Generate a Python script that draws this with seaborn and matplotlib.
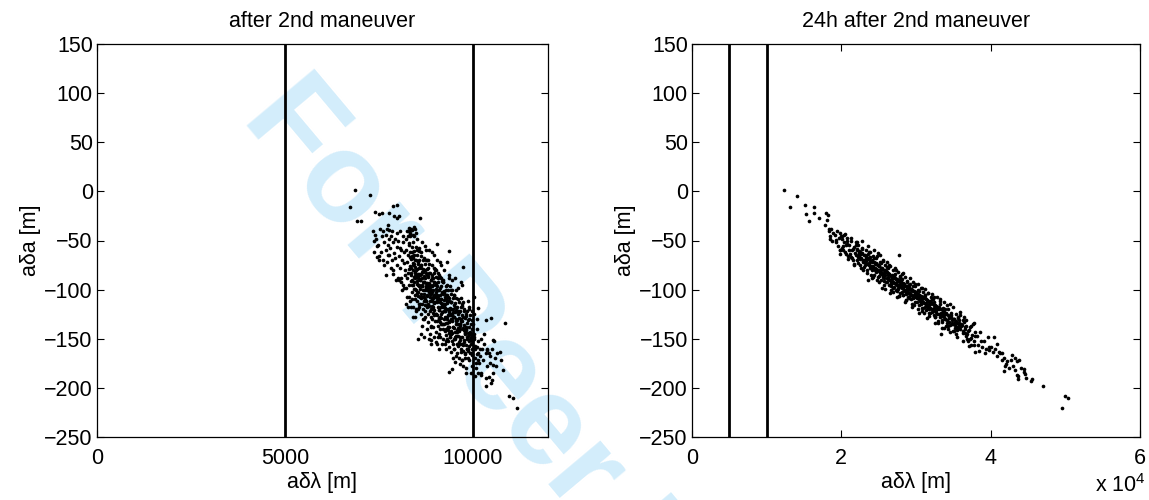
import matplotlib
matplotlib.use("Agg")
import matplotlib.pyplot as plt
import seaborn as sns
import pandas as pd
from matplotlib.ticker import FuncFormatter

# ---------------- data ----------------
titles = ["after 2nd maneuver", "24h after 2nd maneuver"]
x_label = "aδλ [m]"
y_label = "aδa [m]"
y_ticks = [-250, -200, -150, -100, -50, 0, 50, 100, 150]
left_x_ticks = [0, 5000, 10000]
right_x_ticks = [0, 20000, 40000, 60000]
bound_lines = [5000, 10000]
watermark = "For Peer Review"

left_x = [
    6860, 7260, 6730, 6910, 7020, 7395, 7510, 7573, 7883, 7972, 7778, 7910, 8040, 7972, 8592, 7333, 7395, 7376, 7440, 7750, 7777, 7370, 7510, 7616, 7750, 9036, 9370, 9745,
    8250, 8300, 8340, 8380, 8420, 8460, 8500, 8280, 8440,
    8550, 8876, 9017, 9370, 9434, 9523, 9700, 9815, 10347, 10967, 11057, 11180, 10853, 10472, 10347, 10525, 10560, 10632, 10720, 10763, 10800, 10630, 10525, 10435, 10500, 10222, 10365, 10453, 10028, 10143,
    7420, 7480, 7530, 7560, 7590, 7450, 7510,
    7620, 7650, 7680, 7700, 7720, 7750, 7780, 7640, 7760, 7690, 7730,
    7810, 7830, 7850, 7870, 7890, 7910, 7930, 7950, 7970, 7990, 7820, 7880, 7940, 7860, 7980,
    8010, 8030, 8050, 8070, 8090, 8110, 8130, 8150, 8170, 8190, 8020, 8080, 8140, 8160, 8040, 8120, 8180, 8060, 8100, 8200,
    8210, 8230, 8250, 8270, 8290, 8310, 8330, 8350, 8370, 8390, 8220, 8260, 8300, 8340, 8360, 8380, 8240, 8280, 8320, 8400, 8215, 8345, 8305, 8335, 8365, 8285, 8395,
    8410, 8430, 8450, 8470, 8490, 8510, 8530, 8550, 8570, 8590, 8420, 8460, 8500, 8540, 8580, 8440, 8480, 8520, 8560, 8600, 8415, 8455, 8495, 8535, 8575, 8445, 8525, 8565, 8405,
    8610, 8630, 8650, 8670, 8690, 8710, 8730, 8750, 8770, 8790, 8620, 8660, 8700, 8740, 8780, 8640, 8680, 8720, 8760, 8800, 8615, 8655, 8695, 8735, 8775, 8645, 8725, 8765, 8605, 8685, 8745, 8625,
    8810, 8830, 8850, 8870, 8890, 8910, 8930, 8950, 8970, 8990, 8820, 8860, 8900, 8940, 8980, 8840, 8880, 8920, 8960, 9000, 8815, 8855, 8895, 8935, 8975, 8845, 8925, 8965, 8805, 8885, 8945, 8825, 8905, 8985,
    9010, 9030, 9050, 9070, 9090, 9110, 9130, 9150, 9170, 9190, 9020, 9060, 9100, 9140, 9180, 9040, 9080, 9120, 9160, 9200, 9015, 9055, 9095, 9135, 9175, 9045, 9125, 9165, 9005, 9085, 9145, 9195, 9065,
    9210, 9230, 9250, 9270, 9290, 9310, 9330, 9350, 9370, 9390, 9220, 9260, 9300, 9340, 9380, 9240, 9280, 9320, 9360, 9400, 9215, 9255, 9295, 9335, 9375, 9245, 9325, 9365, 9285, 9395,
    9410, 9430, 9450, 9470, 9490, 9510, 9530, 9550, 9570, 9590, 9420, 9460, 9500, 9540, 9580, 9440, 9480, 9520, 9560, 9600, 9415, 9455, 9495, 9535, 9575, 9445, 9595,
    9610, 9630, 9650, 9670, 9690, 9710, 9730, 9750, 9770, 9790, 9620, 9660, 9700, 9740, 9780, 9640, 9680, 9720, 9760, 9800, 9655, 9735, 9695,
    9810, 9830, 9850, 9870, 9890, 9910, 9930, 9950, 9970, 9990, 9820, 9860, 9900, 9940, 9980, 9845, 9925,
    10010, 10030, 10050, 10070, 10090, 10110, 10130, 10150, 10170, 10190, 10020, 10060, 10100, 10140,
    10220, 10250, 10280, 10310, 10340, 10370, 10230, 10290, 10350, 10390,
    10420, 10460, 10500, 10540, 10580, 10480,
    8425, 8465, 8505, 8545, 8585, 8435, 8475, 8515, 8555, 8595, 8412, 8452, 8492, 8532, 8572,
    8625, 8665, 8705, 8745, 8785, 8635, 8675, 8715, 8755, 8795, 8612, 8652, 8692, 8732, 8772,
    8825, 8865, 8905, 8945, 8985, 8835, 8875, 8915, 8955, 8995, 8812, 8852, 8892, 8932, 8972, 8842, 8912, 8962,
    9025, 9065, 9105, 9145, 9185, 9035, 9075, 9115, 9155, 9195, 9012, 9052, 9092, 9132, 9172, 9042, 9112, 9162,
    9225, 9265, 9305, 9345, 9385, 9235, 9275, 9315, 9355, 9395, 9212, 9252, 9292, 9332, 9372, 9242, 9312, 9362,
    9425, 9465, 9505, 9545, 9585, 9435, 9475, 9515, 9555, 9595, 9412, 9452, 9492, 9532, 9572,
    9625, 9665, 9705, 9745, 9785, 9635, 9675, 9715, 9755, 9795, 9612, 9652,
    9825, 9865, 9905, 9945, 9985, 9835, 9875, 9915, 9955,
    10025, 10065, 10105, 10145, 10185, 10040, 10080, 10120,
    8307, 8318, 8333, 8347, 8358, 8366, 8374, 8383, 8391, 8312,
    8407, 8418, 8433, 8447, 8458, 8466, 8474, 8483, 8491, 8412,
    8507, 8518, 8533, 8547, 8558, 8566, 8574, 8583, 8591, 8512,
    8607, 8618, 8633, 8647, 8658, 8666, 8674, 8683, 8691, 8612,
    8707, 8718, 8733, 8747, 8758, 8766, 8774, 8783, 8791, 8712,
    8807, 8818, 8833, 8847, 8858, 8866, 8874, 8883, 8891, 8812,
    8907, 8918, 8933, 8947, 8958, 8966, 8974, 8983, 8991, 8912,
    9007, 9018, 9033, 9047, 9058, 9066, 9074, 9083, 9091, 9012,
    9107, 9118, 9133, 9147, 9158, 9166, 9174, 9183, 9191, 9112,
    9207, 9218, 9233, 9247, 9258, 9266, 9274, 9283, 9291, 9212,
    9307, 9318, 9333, 9347, 9358, 9366, 9374, 9383, 9391, 9312,
    9407, 9418, 9433, 9447, 9458, 9466, 9474, 9483, 9491, 9412,
    9507, 9518, 9533, 9547, 9558, 9566, 9574, 9583, 9591, 9512,
    9607, 9618, 9633, 9647, 9658, 9666, 9674, 9683, 9691, 9612,
    9707, 9718, 9733, 9747, 9758, 9766, 9774, 9783, 9791, 9712,
    9807, 9818, 9833, 9847, 9858, 9866, 9874, 9883, 9891, 9812,
    9907, 9918, 9933, 9947, 9958, 9966, 9974, 9983, 9991, 9912,
]
left_y = [
    1, -4, -16, -30, -30, -21, -23, -22, -15, -14, -22, -25, -25, -27, -27, -40, -44, -51, -56, -34, -39, -62, -66, -70, -65, -54, -61, -77,
    -40, -37, -43, -39, -44, -38, -42, -45, -36,
    -150, -151, -153, -184, -181, -174, -172, -185, -198, -208, -210, -220, -134, -129, -131, -151, -152, -165, -163, -172, -182, -178, -177, -189, -192, -187, -161, -168, -107, -119,
    -48, -55, -38, -62, -45, -67, -70,
    -40, -52, -60, -44, -72, -55, -65, -75, -48, -85, -38,
    -58, -45, -70, -52, -80, -63, -48, -90, -57, -75, -78, -84, -68, -40, -42,
    -50, -66, -78, -58, -88, -70, -45, -95, -62, -80, -88, -92, -52, -73, -90, -100, -98, -40, -60, -85,
    -48, -60, -72, -83, -95, -55, -67, -78, -90, -102, -115, -108, -108, -42, -118, -62, -88, -65, -112, -75, -98, -85, -40, -45, -38, -118, -110,
    -52, -65, -77, -88, -100, -60, -72, -84, -96, -108, -118, -128, -122, -120, -115, -92, -70, -48, -58, -90, -80, -105, -85, -95, -78, -45, -112, -118, -128,
    -62, -75, -88, -100, -112, -68, -80, -93, -105, -118, -125, -137, -148, -128, -140, -95, -82, -56, -70, -98, -108, -115, -92, -110, -85, -52, -122, -60, -85, -130, -98, -145,
    -70, -83, -95, -108, -120, -75, -88, -100, -113, -125, -133, -145, -155, -138, -148, -102, -90, -62, -78, -105, -115, -122, -100, -118, -92, -60, -130, -65, -95, -138, -108, -150, -85, -80,
    -80, -93, -105, -118, -130, -85, -98, -110, -123, -135, -143, -155, -160, -148, -155, -112, -100, -72, -88, -115, -125, -132, -110, -128, -102, -70, -140, -75, -105, -148, -118, -92, -88,
    -90, -103, -115, -128, -140, -95, -108, -120, -133, -145, -150, -155, -160, -152, -158, -122, -110, -72, -88, -125, -135, -142, -120, -138, -112, -80, -150, -85, -100, -148,
    -100, -113, -125, -138, -150, -105, -118, -130, -143, -155, -163, -170, -160, -168, -165, -132, -120, -88, -100, -135, -145, -152, -128, -148, -122, -90, -98,
    -110, -123, -135, -148, -160, -115, -128, -140, -153, -165, -170, -176, -172, -178, -170, -142, -130, -95, -120, -145, -155, -162, -92,
    -125, -138, -150, -162, -172, -130, -143, -155, -167, -178, -180, -112, -120, -185, -140, -160, -150,
    -135, -148, -160, -170, -180, -140, -152, -165, -175, -160, -125, -188, -130, -185,
    -150, -160, -172, -145, -165, -178, -185, -155, -190, -160,
    -165, -175, -160, -185, -170, -195,
    -74, -82, -94, -102, -90, -99, -110, -79, -88, -115, -68, -86, -120, -106, -95,
    -84, -92, -104, -112, -100, -109, -120, -88, -97, -125, -78, -96, -130, -116, -106,
    -93, -101, -112, -120, -108, -117, -128, -96, -105, -132, -86, -104, -137, -124, -114, -99, -110, -126,
    -102, -110, -121, -129, -117, -126, -137, -105, -114, -140, -95, -113, -145, -133, -123, -108, -119, -135,
    -111, -119, -130, -138, -126, -135, -146, -114, -123, -148, -104, -122, -152, -141, -132, -117, -128, -144,
    -120, -128, -139, -147, -135, -144, -155, -123, -132, -157, -113, -131, -160, -150, -141,
    -129, -137, -148, -156, -144, -153, -163, -132, -141, -166, -122, -140,
    -140, -147, -157, -165, -152, -160, -170, -145, -150,
    -150, -157, -166, -172, -168, -145, -175, -158,
    -53, -76, -62, -91, -69, -83, -57, -95, -66, -79,
    -95, -73, -87, -61, -99, -70, -83, -57, -80, -66,
    -65, -103, -74, -87, -61, -84, -70, -99, -77, -91,
    -89, -75, -104, -82, -96, -70, -108, -79, -92, -66,
    -86, -100, -74, -112, -83, -96, -70, -93, -79, -108,
    -116, -87, -100, -74, -97, -83, -112, -90, -104, -78,
    -88, -117, -95, -109, -83, -121, -92, -105, -79, -102,
    -113, -87, -125, -96, -109, -83, -106, -92, -121, -99,
    -100, -113, -87, -110, -96, -125, -103, -117, -91, -129,
    -92, -115, -101, -130, -108, -122, -96, -134, -105, -118,
    -134, -112, -126, -100, -138, -109, -122, -96, -119, -105,
    -104, -142, -113, -126, -100, -123, -109, -138, -116, -130,
    -128, -114, -143, -121, -135, -109, -147, -118, -131, -105,
    -125, -139, -113, -151, -122, -135, -109, -132, -118, -147,
    -155, -126, -139, -113, -136, -122, -151, -129, -143, -117,
    -127, -156, -134, -148, -122, -160, -131, -144, -118, -141,
    -152, -126, -164, -135, -148, -122, -145, -131, -160, -138,
]

right_x = [
    12270, 14040, 13160, 15160, 16400, 15290, 16270, 15640, 17070, 17950, 18170, 18090, 17820, 19870, 19870, 27730, 33290, 25820,
    47060, 49600, 49950, 50400, 45470, 45420, 44400, 44620, 43470, 43600, 43730, 43510, 41950, 41730, 42180, 42840, 43200, 40400, 40840, 39730, 41070, 41510, 37960,
    40000, 40300, 40600, 40900, 41200, 41500, 41800, 42100, 42500, 42700, 43000, 43300, 43600, 44100, 44500, 44700,
    18300, 18500, 18650, 18800, 18900, 18450, 18400,
    19100, 19250, 19400, 19550, 19700, 19850, 19300, 19900, 19870,
    20050, 20150, 20300, 20400, 20550, 20650, 20800, 20900, 20250, 20700,
    21050, 21150, 21300, 21450, 21550, 21700, 21800, 21950, 21250, 21650,
    22050, 22150, 22250, 22350, 22450, 22550, 22650, 22750, 22850, 22950, 22300, 22700,
    23050, 23150, 23250, 23350, 23450, 23550, 23650, 23750, 23850, 23950, 23200, 23500, 23800, 23600,
    24050, 24100, 24200, 24300, 24350, 24450, 24500, 24600, 24700, 24750, 24850, 24950, 24150, 24400, 24650, 24900,
    25050, 25100, 25200, 25250, 25350, 25400, 25500, 25550, 25650, 25700, 25800, 25850, 25950, 25150, 25450, 25750, 25300, 25600,
    26050, 26100, 26200, 26250, 26350, 26400, 26500, 26550, 26650, 26700, 26800, 26850, 26950, 26150, 26450, 26750, 26300, 26600,
    27050, 27100, 27150, 27250, 27300, 27400, 27450, 27550, 27600, 27700, 27750, 27850, 27900, 27950, 27200, 27500, 27800, 27350, 27650, 27000,
    28050, 28100, 28150, 28250, 28300, 28400, 28450, 28550, 28600, 28700, 28750, 28850, 28900, 28950, 28200, 28500, 28800, 28350, 28650, 28000,
    29050, 29100, 29150, 29250, 29300, 29400, 29450, 29550, 29600, 29700, 29750, 29850, 29900, 29950, 29200, 29500, 29800, 29350, 29650, 29000,
    30050, 30150, 30250, 30300, 30400, 30500, 30550, 30650, 30700, 30800, 30900, 30950, 30200, 30450, 30750, 30350, 30600, 30850,
    31050, 31150, 31250, 31300, 31400, 31500, 31550, 31650, 31700, 31800, 31900, 31950, 31200, 31450, 31750, 31350, 31600, 31850,
    32050, 32150, 32250, 32350, 32450, 32550, 32650, 32750, 32850, 32950, 32200, 32500, 32800, 32400, 32600, 32900,
    33050, 33150, 33250, 33350, 33450, 33550, 33650, 33750, 33850, 33950, 33200, 33500, 33800, 33600,
    34050, 34150, 34300, 34400, 34550, 34650, 34800, 34900, 34250, 34500, 34750, 34950,
    35050, 35200, 35300, 35450, 35550, 35700, 35800, 35950, 35400, 35650,
    36100, 36250, 36350, 36500, 36650, 36750, 36900, 36400, 36800,
    37100, 37250, 37400, 37550, 37700, 37850, 37300, 37800,
    38100, 38300, 38500, 38700, 38900, 38400,
    39100, 39400, 39600, 39800, 39300,
    22100, 22200, 22400, 22500, 22600, 22800, 22900, 22020,
    23100, 23200, 23300, 23400, 23500, 23700, 23800, 23900,
    24100, 24250, 24400, 24550, 24700, 24800, 24900, 24000, 24600,
    25100, 25200, 25300, 25400, 25500, 25600, 25700, 25800, 25900, 25000,
    26000, 26100, 26200, 26300, 26400, 26500, 26600, 26700, 26800, 26900,
    27030, 27130, 27230, 27330, 27430, 27530, 27630, 27730, 27830, 27930,
    28030, 28130, 28230, 28330, 28430, 28530, 28630, 28730, 28830, 28930,
    29030, 29130, 29230, 29330, 29430, 29530, 29630, 29730, 29830, 29930,
    30030, 30130, 30230, 30330, 30430, 30530, 30630, 30730, 30830, 30930,
    31030, 31130, 31230, 31330, 31430, 31530, 31630, 31730, 31830, 31930,
    32030, 32130, 32230, 32330, 32430, 32530, 32630, 32730, 32830,
    33030, 33160, 33290, 33420, 33550, 33680, 33810, 33940,
    34030, 34180, 34330, 34480, 34630, 34780, 34930,
    35030, 35200, 35370, 35540, 35710, 35880,
    36050, 36300, 36550, 36800,
    20080, 20260, 20420, 20590, 20740, 20900,
    21080, 21260, 21420, 21590, 21740, 21900,
    22080, 22260, 22420, 22590, 22740, 22900,
    23080, 23260, 23420, 23590, 23740, 23900,
    24080, 24260, 24420, 24590, 24740, 24900,
    25080, 25260, 25420, 25590, 25740, 25900,
    26080, 26260, 26420, 26590, 26740, 26900,
    27080, 27260, 27420, 27590, 27740, 27900,
    28080, 28260, 28420, 28590, 28740, 28900,
    29080, 29260, 29420, 29590, 29740, 29900,
    30080, 30260, 30420, 30590, 30740, 30900,
    31080, 31260, 31420, 31590, 31740, 31900,
    32080, 32260, 32420, 32590, 32740, 32900,
    33080, 33260, 33420, 33590, 33740, 33900,
    34080, 34260, 34420, 34590, 34740, 34900,
    35080, 35260, 35420, 35590, 35740, 35900,
    36080, 36260, 36420, 36590, 36740, 36900,
    37080, 37260, 37420, 37590, 37740, 37900,
]
right_y = [
    1, -5, -16, -14, -16, -23, -22, -30, -27, -22, -24, -29, -34, -60, -64, -65, -145, -99,
    -198, -220, -208, -210, -191, -193, -181, -186, -187, -191, -172, -173, -178, -183, -173, -167, -170, -148, -155, -161, -163, -165, -163,
    -158, -163, -160, -168, -165, -172, -170, -176, -180, -172, -178, -182, -188, -180, -184, -190,
    -40, -45, -38, -50, -42, -48, -38,
    -44, -52, -40, -56, -47, -60, -49, -45, -42,
    -48, -58, -52, -44, -62, -55, -50, -66, -60, -47,
    -55, -64, -50, -60, -70, -57, -63, -52, -67, -75,
    -60, -70, -55, -66, -75, -62, -68, -58, -72, -80, -63, -50,
    -65, -75, -60, -71, -80, -68, -73, -62, -78, -85, -70, -56, -67, -90,
    -70, -80, -66, -76, -85, -73, -78, -68, -82, -90, -75, -63, -88, -60, -74, -80,
    -76, -86, -72, -82, -90, -78, -84, -70, -88, -95, -80, -75, -92, -65, -98, -83, -79, -87,
    -82, -92, -78, -88, -95, -84, -90, -76, -94, -100, -86, -80, -98, -72, -103, -89, -85, -93,
    -88, -97, -84, -93, -100, -90, -95, -82, -99, -106, -91, -86, -103, -95, -78, -108, -94, -89, -98, -85,
    -93, -102, -89, -98, -105, -95, -100, -87, -104, -111, -96, -91, -108, -100, -83, -113, -99, -94, -103, -90,
    -98, -107, -94, -103, -110, -100, -105, -92, -109, -116, -101, -96, -113, -105, -88, -118, -104, -99, -108, -95,
    -104, -113, -100, -109, -116, -106, -111, -98, -115, -122, -107, -102, -94, -124, -110, -105, -114, -119,
    -109, -118, -105, -114, -121, -111, -116, -103, -120, -127, -112, -107, -99, -129, -115, -110, -119, -124,
    -114, -123, -110, -119, -126, -116, -121, -108, -125, -132, -104, -134, -120, -113, -128, -118,
    -120, -128, -115, -124, -131, -121, -126, -113, -130, -137, -110, -139, -125, -119,
    -125, -134, -120, -129, -136, -126, -131, -118, -140, -115, -135, -142,
    -130, -139, -125, -134, -141, -131, -136, -123, -145, -128,
    -136, -144, -131, -140, -147, -137, -142, -128, -150,
    -141, -150, -137, -146, -152, -143, -156, -134,
    -147, -156, -143, -152, -158, -162,
    -152, -160, -148, -158, -165,
    -59, -67, -61, -69, -64, -63, -71, -65,
    -65, -72, -66, -74, -69, -68, -76, -71,
    -71, -78, -72, -80, -74, -80, -75, -76, -73,
    -76, -83, -78, -84, -79, -86, -80, -85, -82, -81,
    -81, -88, -83, -89, -84, -90, -86, -91, -85, -92,
    -86, -93, -88, -94, -89, -95, -91, -96, -90, -97,
    -92, -98, -93, -100, -95, -101, -96, -102, -97, -103,
    -97, -104, -99, -105, -100, -106, -101, -107, -102, -108,
    -102, -109, -104, -110, -105, -111, -106, -112, -107, -113,
    -108, -114, -109, -116, -111, -117, -112, -118, -113, -119,
    -113, -120, -115, -121, -116, -122, -117, -123, -118,
    -118, -125, -120, -127, -122, -128, -123, -130,
    -124, -131, -126, -133, -128, -134, -130,
    -130, -136, -132, -138, -134, -140,
    -135, -142, -138, -145,
    -45, -56, -43, -64, -54, -69,
    -60, -47, -68, -59, -74, -55,
    -52, -73, -64, -78, -59, -70,
    -77, -68, -83, -64, -75, -62,
    -72, -87, -68, -79, -66, -87,
    -92, -73, -84, -71, -91, -82,
    -77, -88, -75, -96, -87, -102,
    -93, -80, -101, -91, -106, -87,
    -84, -105, -96, -111, -92, -103,
    -109, -100, -115, -96, -107, -94,
    -105, -120, -101, -112, -98, -119,
    -124, -105, -116, -103, -124, -115,
    -110, -121, -108, -128, -119, -134,
    -125, -112, -133, -124, -139, -120,
    -116, -137, -128, -143, -124, -135,
    -142, -133, -148, -129, -139, -126,
    -137, -152, -133, -144, -131, -152,
    -157, -138, -149, -135, -156, -147,
]

# ---------------- styling ----------------
sns.set_theme(style="white")
plt.rcParams["font.family"] = ["Liberation Sans", "DejaVu Sans"]
plt.rcParams["mathtext.fontset"] = "custom"
plt.rcParams["mathtext.rm"] = "Liberation Sans"
for key in ["text.color", "axes.labelcolor", "xtick.color", "ytick.color", "axes.edgecolor"]:
    plt.rcParams[key] = "black"
FS = 15.5

fig = plt.figure(figsize=(11.49, 5.0), dpi=100)
fig.patch.set_facecolor("white")
ax1 = fig.add_axes([0.0844, 0.126, 0.3925, 0.786])
ax2 = fig.add_axes([0.6023, 0.126, 0.3899, 0.786])

# watermark behind the axes
fig.text(0.2097, 0.764, watermark, rotation=-50, rotation_mode="anchor",
         ha="left", va="baseline", fontsize=92, fontweight="bold",
         color="#d3edfb", zorder=-5, family=["Liberation Sans", "DejaVu Sans"])

left_df = pd.DataFrame({"x": left_x, "y": left_y})
right_df = pd.DataFrame({"x": right_x, "y": right_y})

panels = [(ax1, left_df, [0, 12000], left_x_ticks, titles[0]),
          (ax2, right_df, [0, 60000], right_x_ticks, titles[1])]

for ax, df, xlim, xt, title in panels:
    ax.patch.set_visible(False)
    for xv in bound_lines:
        ax.axvline(xv, color="black", lw=2.0, zorder=2)
    sns.scatterplot(data=df, x="x", y="y", ax=ax, color="black", s=7,
                    linewidth=0, zorder=3, legend=False)
    ax.set_xlim(xlim)
    ax.set_ylim(-250, 150)
    ax.set_xticks(xt)
    ax.set_yticks(y_ticks)
    ax.set_title(title, fontsize=FS, pad=12)
    ax.set_xlabel(x_label, fontsize=FS, labelpad=2)
    ax.set_ylabel(y_label, fontsize=FS, labelpad=2)
    ax.tick_params(direction="in", length=5, width=0.8, labelsize=FS,
                   top=True, right=True, bottom=True, left=True)
    ax.tick_params(axis="x", pad=8)
    ax.tick_params(axis="y", pad=3)
    for sp in ax.spines.values():
        sp.set_visible(True)
        sp.set_color("black")
        sp.set_linewidth(0.9)

ax2.xaxis.set_major_formatter(FuncFormatter(lambda v, p: f"{v / 1e4:g}"))
fig.text(0.997, 0.006, r"x 10$^{4}$", ha="right", va="bottom", fontsize=FS)

fig.savefig("out.png", dpi=100, facecolor="white")
